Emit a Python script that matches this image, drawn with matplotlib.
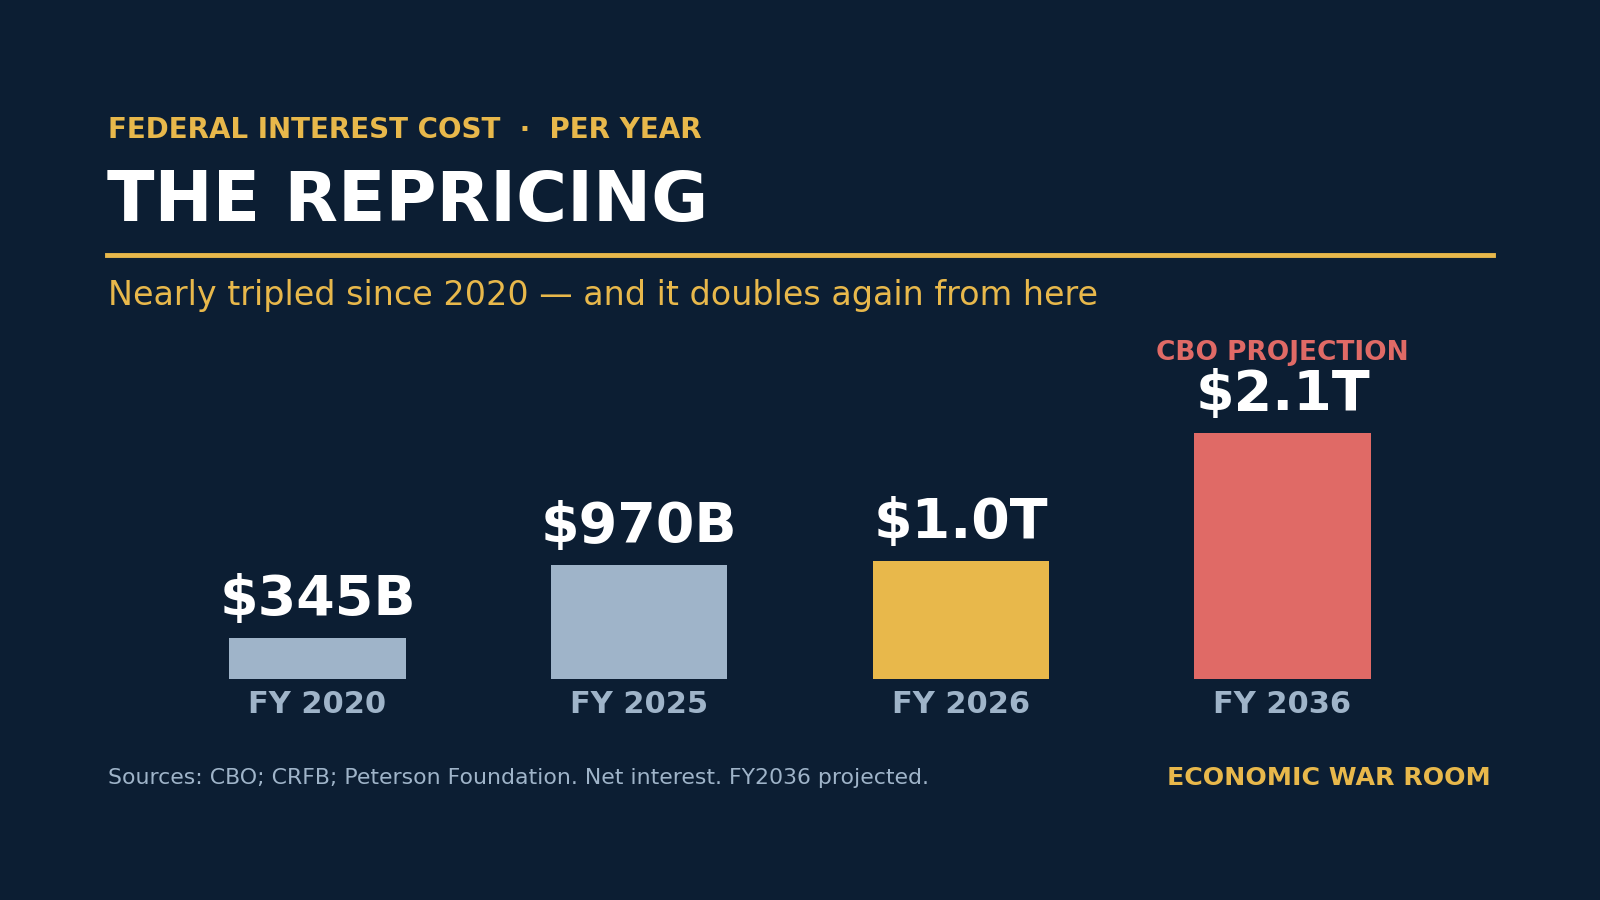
import matplotlib
matplotlib.use("Agg")
import matplotlib.pyplot as plt

categories = ["FY 2020", "FY 2025", "FY 2026", "FY 2036"]
values = [345, 970, 1000, 2100]  # $ billions
labels = ["$345B", "$970B", "$1.0T", "$2.1T"]
colors = ["#9fb4c9", "#9fb4c9", "#e8b84b", "#e06a66"]

BG = "#0c1e33"; GOLD = "#e8b84b"; SLATE = "#9fb4c9"; RED = "#e06a66"
W, H = 1568, 882
fig = plt.figure(figsize=(16, 9), dpi=100, facecolor=BG)
fx = lambda x: x / W
fy = lambda y: 1 - y / H

fig.text(fx(106), fy(127), "FEDERAL INTEREST COST  ·  PER YEAR", color=GOLD, fontsize=20,
         fontweight="bold", va="center", ha="left")
fig.text(fx(105), fy(197), "THE REPRICING", color="white", fontsize=50, fontweight="bold",
         va="center", ha="left")
fig.add_artist(plt.Line2D([fx(105), fx(1463)], [fy(250), fy(250)], color=GOLD, lw=3.5,
                          transform=fig.transFigure))
fig.text(fx(106), fy(290), "Nearly tripled since 2020 — and it doubles again from here",
         color=GOLD, fontsize=24, va="center", ha="left")

ax = fig.add_axes([fx(153.5), fy(665), fx(1261), (665 - 330) / H])
ax.set_facecolor(BG)
x = list(range(len(values)))
ax.bar(x, values, width=0.549, color=colors)
ax.set_xlim(-0.5, 3.5)
ax.set_ylim(0, 2100 * 335 / 241)
for s in ax.spines.values():
    s.set_visible(False)
ax.set_yticks([])
ax.set_xticks(x)
ax.set_xticklabels(categories, color=SLATE, fontsize=22, fontweight="bold")
ax.tick_params(axis="x", length=0, pad=8)
for xi, v, lab in zip(x, values, labels):
    ax.annotate(lab, (xi, v), xytext=(0, 8), textcoords="offset points", ha="center",
                va="bottom", color="white", fontsize=40, fontweight="bold")
ax.annotate("CBO PROJECTION", (3, values[3]), xytext=(0, 48), textcoords="offset points",
            ha="center", va="bottom", color=RED, fontsize=19, fontweight="bold")

fig.text(fx(106), fy(762), "Sources: CBO; CRFB; Peterson Foundation. Net interest. FY2036 projected.",
         color=SLATE, fontsize=15.8, va="center", ha="left")
fig.text(fx(1461), fy(762), "ECONOMIC WAR ROOM", color=GOLD, fontsize=18.2, fontweight="bold",
         va="center", ha="right")

fig.savefig("out.png", facecolor=BG)
